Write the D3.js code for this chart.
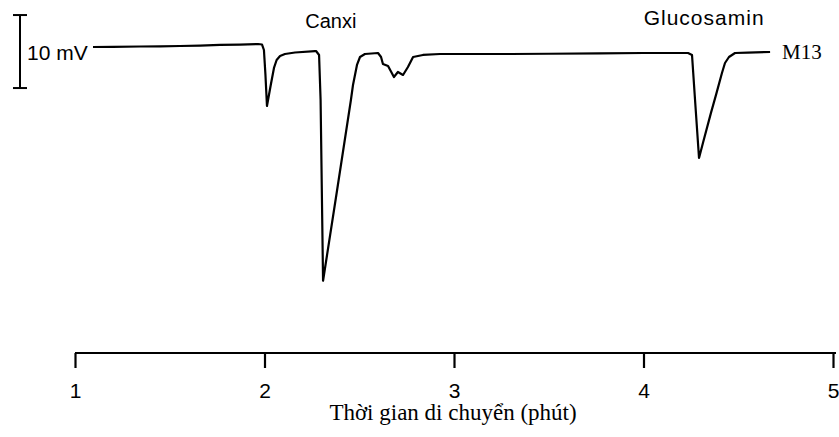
<!DOCTYPE html>
<html>
<head>
<meta charset="utf-8">
<script src="https://cdn.jsdelivr.net/npm/d3@7"></script>
<style>
  html, body { margin: 0; padding: 0; background: #fff; }
  svg { display: block; }
</style>
</head>
<body>
<svg id="chart" width="839" height="437"></svg>
<script>
// Electropherogram trace M13: migration time (min) and detector signal (mV)
const timeMin = [
  1.095, 1.200, 1.343, 1.450, 1.554, 1.660, 1.765, 1.870, 1.966, 1.987,
  1.997, 2.005, 2.013, 2.033, 2.050, 2.064, 2.082, 2.108, 2.161, 2.266,
  2.272, 2.288, 2.296, 2.309, 2.383, 2.456, 2.467, 2.488, 2.504, 2.530,
  2.599, 2.615, 2.625, 2.652, 2.683, 2.704, 2.731, 2.757, 2.784, 2.836,
  2.926, 3.100, 3.300, 3.500, 3.770, 4.000, 4.235, 4.256, 4.272, 4.293,
  4.314, 4.356, 4.383, 4.414, 4.430, 4.451, 4.483, 4.550, 4.668
];
const signalMV = [
  0.82, 0.85, 0.89, 0.92, 0.96, 1.02, 1.10, 1.15, 1.23, 1.16,
  0.41, -3.00, -7.26, -4.38, -2.05, -0.96, -0.41, -0.14, 0.07, 0.27,
  0.27, -0.27, -6.44, -31.2, -18.8, -6.44, -4.38, -1.64, -0.55, -0.14,
  0.00, -0.55, -1.50, -1.78, -3.29, -2.60, -3.01, -1.92, -0.55, -0.27,
  -0.14, -0.14, -0.14, -0.10, -0.05, 0.00, 0.00, -0.27, -6.44, -14.38,
  -12.3, -8.20, -5.70, -2.74, -1.37, -0.55, 0.00, 0.05, 0.14
];

const xTicks = [1, 2, 3, 4, 5];
const peakNames = ["Canxi", "Glucosamin"];
const peakTimes = [2.35, 4.32];
const traceName = "M13";
const scaleBarMV = 10;
const xTitle = "Thời gian di chuyển (phút)";

const svg = d3.select("#chart");

const x = d3.scaleLinear().domain([1, 5]).range([75, 833]);
// 7.3 px per mV, baseline (0 mV) at y = 53
const y = d3.scaleLinear().domain([0, 10]).range([53, -20]);

const trace = timeMin.map((t, i) => ({ t, v: signalMV[i] }));

// Signal trace
svg.append("path")
  .datum(trace)
  .attr("fill", "none")
  .attr("stroke", "#000")
  .attr("stroke-width", 2.2)
  .attr("stroke-linejoin", "round")
  .attr("d", d3.line().x(d => x(d.t)).y(d => y(d.v)));

// Time axis
const axis = svg.append("g")
  .attr("transform", "translate(0,353)")
  .call(d3.axisBottom(x).tickValues(xTicks).tickFormat(d3.format("d")).tickSize(15).tickPadding(15));
axis.select(".domain").attr("stroke", "#000").attr("stroke-width", 2.2)
  .attr("d", `M${x(1)},0H${x(5) + 3}`);
axis.selectAll(".tick line").attr("stroke", "#000").attr("stroke-width", 2.2);
axis.selectAll(".tick text")
  .attr("fill", "#000")
  .style("font-family", "'Liberation Sans', Arial, sans-serif")
  .style("font-size", "21px");

svg.append("text")
  .attr("x", 453).attr("y", 420)
  .attr("text-anchor", "middle")
  .style("font-family", "'Liberation Serif', 'Times New Roman', serif")
  .style("font-size", "23px")
  .text(xTitle);

// 10 mV scale bar
const barTop = y(5.2), barBot = y(5.2 - scaleBarMV);
const bar = svg.append("g").attr("stroke", "#000").attr("stroke-width", 2);
bar.append("line").attr("x1", 20).attr("x2", 20).attr("y1", barTop).attr("y2", barBot);
bar.append("line").attr("x1", 13).attr("x2", 27).attr("y1", barTop).attr("y2", barTop);
bar.append("line").attr("x1", 13).attr("x2", 27).attr("y1", barBot).attr("y2", barBot);
svg.append("text")
  .attr("x", 27).attr("y", (barTop + barBot) / 2 + 8)
  .style("font-family", "'Liberation Sans', Arial, sans-serif")
  .style("font-size", "21px")
  .text(`${scaleBarMV} mV`);

// Peak names
svg.selectAll(".peak")
  .data(peakNames)
  .join("text")
  .attr("class", "peak")
  .attr("x", (d, i) => x(peakTimes[i]))
  .attr("y", (d, i) => i === 0 ? 28 : 25)
  .attr("text-anchor", "middle")
  .style("font-family", "'Liberation Sans', Arial, sans-serif")
  .style("font-size", (d, i) => i === 0 ? "20px" : "21px")
  .style("letter-spacing", (d, i) => i === 0 ? "0px" : "1px")
  .text(d => d);

// Trace label
svg.append("text")
  .attr("x", 782).attr("y", 59)
  .style("font-family", "'Liberation Serif', 'Times New Roman', serif")
  .style("font-size", "21px")
  .text(traceName);
</script>
</body>
</html>
